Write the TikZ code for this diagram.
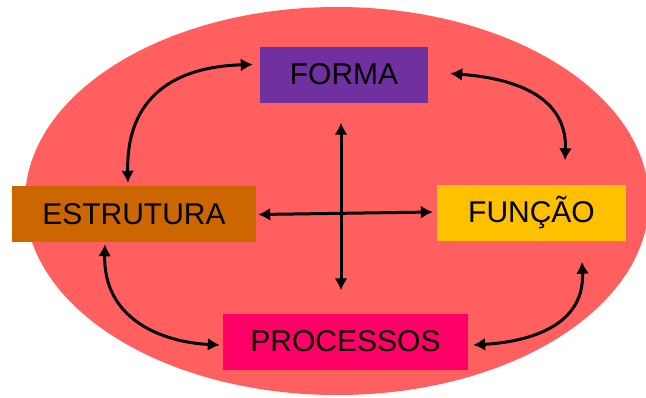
\documentclass[tikz,border=0pt]{standalone}
\usepackage{fontspec}
\setmainfont{Liberation Sans}
\usetikzlibrary{calc,arrows.meta}
\definecolor{bg_red}{HTML}{FF5F5F}
\definecolor{forma_violet}{HTML}{7030A0}
\definecolor{estrutura_brown}{HTML}{CC6600}
\definecolor{funcao_gold}{HTML}{FFC000}
\definecolor{processos_pink}{HTML}{FF0066}
\tikzset{ box/.style = { rectangle % concept box
        , draw = none
        , inner sep = 0pt
        , minimum height = 56pt
        , font = \fontsize{30}{36}\selectfont
        , text = black
        }
        }
\begin{document}
\begin{tikzpicture}[x=1pt, y=-1pt, >={Latex[length=12pt,width=13pt]},
        edge_style/.style={draw=black, line width=3pt, <->}]
        \useasboundingbox (0,0) rectangle (646,397);
        \fill [bg_red] (337,201) ellipse [x radius=312pt, y radius=194pt];

        \node [box, fill=forma_violet, minimum width=168pt](forma) at (344,74.5) {FORMA};
        \node [box, fill=estrutura_brown, minimum width=244pt](estrutura) at (134,214) {ESTRUTURA};
        \node [box, fill=funcao_gold, minimum width=189pt](funcao) at (531.5,212.5) {FUNÇÃO};
        \node [box, fill=processos_pink, minimum width=245pt](processos) at (345.5,341.5) {PROCESSOS};

        \draw [edge_style] ([xshift=-3pt,yshift=-20pt]forma.south) -- ([xshift=-4.5pt,yshift=23pt]processos.north);
        \draw [edge_style] ([xshift=2pt,yshift=-0.5pt]estrutura.east) -- ([xshift=-4pt,yshift=0.5pt]funcao.west);

        \coordinate (crtl1a) at (165,67);
        \coordinate (crtl1b) at (126,105);
        \draw [edge_style] ([xshift=-7pt,yshift=10pt]forma.west) .. controls (crtl1a) and (crtl1b) .. ([xshift=-6pt,yshift=3pt]estrutura.north);
        \coordinate (crtl2a) at (535,80);
        \coordinate (crtl2b) at (567,108);
        \draw [edge_style] ([xshift=22pt,yshift=1pt]forma.east) .. controls (crtl2a) and (crtl2b) .. ([xshift=33.5pt,yshift=24pt]funcao.north);
        \coordinate (crtl3a) at (103,318);
        \coordinate (crtl3b) at (160,342);
        \draw [edge_style] ([xshift=-29pt,yshift=-2pt]estrutura.south) .. controls (crtl3a) and (crtl3b) .. ([xshift=-3pt,yshift=-3.5pt]processos.west);
        \coordinate (crtl4a) at (585,328);
        \coordinate (crtl4b) at (525,342);
        \draw [edge_style] ([xshift=50.5pt,yshift=-21pt]funcao.south) .. controls (crtl4a) and (crtl4b) .. ([xshift=5pt,yshift=-3.5pt]processos.east);
\end{tikzpicture}
\end{document}
